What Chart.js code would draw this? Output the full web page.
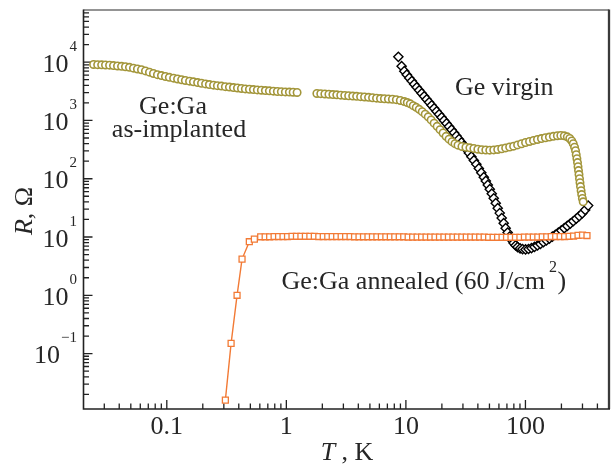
<!DOCTYPE html>
<html>
<head>
<meta charset="utf-8">
<title>R(T) Ge:Ga</title>
<script src="https://cdn.jsdelivr.net/npm/chart.js@4.4.1/dist/chart.umd.min.js"></script>
<style>
  html, body { margin: 0; padding: 0; background: #fff; }
  #wrap { width: 615px; height: 466px; }
</style>
</head>
<body>
<div id="wrap"><canvas id="chart1" width="615" height="466"></canvas></div>
<script>
// Ge:Ga as-implanted (T in K, R in Ohm)
const tImplanted = [
  0.0244, 0.0264, 0.0285, 0.0307, 0.0332, 0.0358, 0.0387, 0.0418, 0.0451, 0.0487,
  0.0526, 0.0568, 0.0614, 0.0663, 0.0716, 0.0773, 0.0835, 0.0902, 0.0974, 0.105,
  0.114, 0.123, 0.133, 0.143, 0.155, 0.167, 0.181, 0.195, 0.211, 0.227,
  0.246, 0.265, 0.286, 0.309, 0.334, 0.361, 0.390, 0.421, 0.454, 0.491,
  0.530, 0.572, 0.618, 0.668, 0.721, 0.779, 0.841, 0.908, 0.981, 1.06, 1.14, 1.23,
  1.80, 1.94, 2.10, 2.27, 2.45, 2.64, 2.85, 3.08, 3.32, 3.59, 3.87, 4.18, 4.51, 4.87, 5.26, 5.68,
  6.13, 6.61, 7.14, 7.71, 8.32, 8.98, 9.70, 10.27, 10.88, 11.52,
  12.20, 12.92, 13.69, 14.50, 15.36, 16.26, 17.22, 18.24, 19.32, 20.46,
  21.67, 22.95, 24.30, 25.74, 27.27, 29.43, 31.78, 34.30, 37.03, 39.98,
  43.17, 46.60, 50.30, 54.30, 58.62, 63.30, 68.32, 73.77, 79.62, 85.97,
  92.81, 100.2, 108.2, 116.8, 126.1, 136.1, 146.9, 158.6, 171.2, 184.9,
  197.7, 211.3, 223.9, 234.8, 244.0, 251.1, 257.5, 262.4, 266.0, 269.5,
  272.6, 275.3, 277.9, 280.6, 283.3, 286.0, 288.8, 292.1, 295.4, 299.5, 304.1
];
const rImplanted = [
  9130, 9060, 8990, 8950, 8880, 8740, 8610, 8470, 8340, 8140,
  7890, 7640, 7410, 7070, 6740, 6400, 6100, 5890, 5680, 5490,
  5320, 5150, 4990, 4850, 4720, 4590, 4470, 4350, 4230, 4130,
  4030, 3950, 3880, 3800, 3730, 3670, 3610, 3540, 3480, 3430,
  3380, 3340, 3300, 3260, 3220, 3180, 3140, 3120, 3090, 3070, 3050, 3020,
  2905, 2882, 2848, 2814, 2782, 2749, 2716, 2684, 2653, 2621, 2590, 2560, 2530, 2490, 2451, 2413,
  2375, 2357, 2338, 2310, 2274, 2203, 2109, 2028, 1926, 1795,
  1678, 1550, 1415, 1283, 1153, 1020, 899, 792, 695, 610,
  534, 478, 433, 400, 377, 358, 347, 339, 330, 321,
  314, 311, 309, 312, 318, 327, 338, 350, 362, 380,
  398, 418, 436, 454, 472, 489, 505, 519, 534, 547,
  553, 544, 523, 491, 445, 400, 348, 303, 259, 221,
  189, 161, 138, 118, 100.4, 85.7, 73.2, 62.5, 53.4, 45.9, 40.2
];

// Ge virgin
const tVirgin = [
  8.65, 9.21, 9.70, 10.17, 10.67, 11.20, 11.74, 12.32, 12.92, 13.56,
  14.22, 14.92, 15.65, 16.42, 17.22, 18.07, 18.95, 19.89, 20.86, 21.88,
  22.95, 24.08, 25.26, 26.50, 27.80, 29.16, 30.59, 32.09, 33.65, 35.31,
  37.03, 38.85, 40.75, 42.74, 44.84, 46.60, 48.42, 50.30, 52.26, 54.30,
  56.43, 58.62, 60.91, 63.30, 65.77, 68.32, 71.00, 73.77, 76.65, 79.62,
  82.74, 85.97, 90.19, 94.60, 100.2, 106.1, 112.4, 119.0, 126.1, 133.5,
  141.4, 149.8, 158.6, 168.0, 177.9, 188.5, 199.6, 211.3, 223.9, 237.1,
  251.1, 266.0, 281.7, 298.3, 316.0, 334.6
];
const rVirgin = [
  12330, 8540, 7010, 6100, 5360, 4740, 4195, 3710, 3283, 2916,
  2590, 2301, 2044, 1816, 1613, 1432, 1272, 1130, 1000, 888,
  786, 695, 615, 542, 478, 419, 367, 319, 277, 239,
  206, 177, 150, 127, 106.5, 91.7, 78.3, 66.3, 55.5, 46.1,
  38.1, 31.3, 25.7, 21.1, 17.3, 14.2, 11.9, 10.16, 8.85, 7.86,
  7.18, 6.71, 6.37, 6.20, 6.13, 6.23, 6.45, 6.76, 7.15, 7.61,
  8.14, 8.74, 9.39, 10.12, 10.95, 11.90, 12.97, 14.16, 15.50, 16.98,
  18.66, 20.60, 22.83, 25.40, 29.16, 34.56
];

// Ge:Ga annealed (60 J/cm2)
const tAnnealed = [
  0.309, 0.345, 0.387, 0.426, 0.49, 0.54, 0.61,
  0.665, 0.725, 0.790, 0.861, 0.938, 1.023, 1.115, 1.215, 1.324, 1.443,
  1.573, 1.714, 1.868, 2.036, 2.220, 2.419, 2.637, 2.874, 3.132, 3.413,
  3.720, 4.055, 4.419, 4.817, 5.250, 5.722, 6.236, 6.797, 7.408, 8.074,
  8.800, 9.591, 10.45, 11.39, 12.42, 13.53, 14.75, 16.08, 17.52, 19.10,
  20.81, 22.69, 24.73, 26.95, 29.37, 32.01, 34.89, 38.03, 41.44, 45.17,
  49.23, 53.66, 58.48, 63.74, 69.47, 75.72, 82.52, 89.94, 98.03, 106.8,
  116.4, 126.9, 138.3, 150.8, 164.3, 179.1, 195.2, 212.7, 231.9, 252.7, 275.4, 300.2, 327.2
];
const rAnnealed = [
  0.0159, 0.150, 1.00, 4.18, 8.3, 9.2, 10.1,
  10.1, 10.1, 10.2, 10.2, 10.2, 10.2, 10.3, 10.3, 10.3, 10.3,
  10.3, 10.3, 10.2, 10.2, 10.2, 10.2, 10.2, 10.2, 10.2, 10.2,
  10.1, 10.1, 10.1, 10.1, 10.1, 10.1, 10.1, 10.1, 10.1, 10.1,
  10.1, 10.1, 10.0, 10.0, 10.0, 10.0, 10.0, 10.0, 10.0, 10.0,
  10.0, 10.0, 10.0, 10.0, 10.0, 10.0, 10.0, 10.0, 10.0, 10.0,
  9.9, 9.9, 9.9, 9.9, 9.9, 9.9, 9.9, 9.9, 10.0, 10.0,
  10.0, 10.0, 10.1, 10.1, 10.2, 10.2, 10.2, 10.2, 10.3, 10.4, 10.7, 10.8, 10.6
];

// etiquetas de los ejes
const xTickValues = [0.1, 1, 10, 100];
const xTickLabels = ['0.1', '1', '10', '100'];
const yTickValues = [0.1, 1, 10, 100, 1000, 10000];
const yTickExps = ['\u22121', '0', '1', '2', '3', '4'];

const serif = '"Liberation Serif", "Times New Roman", serif';
const ink = '#262626';
const olive = '#a3963a';
const orange = '#f27a35';

function pairs(xs, ys) {
  return xs.map((x, i) => ({ x: x, y: ys[i] }));
}

// ticks hacia adentro + marco
const axisPlugin = {
  id: 'axisPlugin',
  beforeDatasetsDraw(chart) {
    const ctx = chart.ctx;
    const a = chart.chartArea;
    const sx = chart.scales.x;
    const sy = chart.scales.y;
    ctx.save();
    ctx.strokeStyle = '#222';
    ctx.lineWidth = 1.3;
    ctx.beginPath();
    for (let e = -2; e <= 2; e++) {
      for (let m = 1; m <= 9; m++) {
        const v = m * Math.pow(10, e);
        if (v <= sx.min * 1.02 || v >= sx.max) continue;
        const px = sx.getPixelForValue(v);
        const len = m === 1 ? 9 : 5.5;
        ctx.moveTo(px, a.bottom);
        ctx.lineTo(px, a.bottom - len);
      }
    }
    for (let e = -2; e <= 4; e++) {
      for (let m = 1; m <= 9; m++) {
        const v = m * Math.pow(10, e);
        if (v <= sy.min || v >= sy.max) continue;
        const py = sy.getPixelForValue(v);
        const len = m === 1 ? 9 : 5.5;
        ctx.moveTo(a.left, py);
        ctx.lineTo(a.left + len, py);
      }
    }
    ctx.stroke();

    // marco
    ctx.lineWidth = 1.3;
    ctx.strokeStyle = '#707070';
    ctx.beginPath();
    ctx.moveTo(a.left, a.top);
    ctx.lineTo(a.right, a.top);
    ctx.stroke();
    ctx.lineWidth = 2.3;
    ctx.strokeStyle = '#3a3a3a';
    ctx.beginPath();
    ctx.moveTo(a.right, a.top - 0.6);
    ctx.lineTo(a.right, a.bottom);
    ctx.stroke();
    ctx.lineWidth = 1.6;
    ctx.strokeStyle = '#222';
    ctx.beginPath();
    ctx.moveTo(a.left, a.top - 0.6);
    ctx.lineTo(a.left, a.bottom);
    ctx.lineTo(a.right + 1, a.bottom);
    ctx.stroke();
    ctx.restore();
  },
  afterDraw(chart) {
    const ctx = chart.ctx;
    const sx = chart.scales.x;
    const sy = chart.scales.y;
    ctx.save();
    ctx.fillStyle = ink;
    ctx.textBaseline = 'alphabetic';

    // eje x
    ctx.font = '26px ' + serif;
    ctx.textAlign = 'center';
    xTickValues.forEach((v, i) => {
      ctx.fillText(xTickLabels[i], sx.getPixelForValue(v), 434);
    });

    // eje y: 10 con exponente
    yTickValues.forEach((v, i) => {
      const py = sy.getPixelForValue(v);
      ctx.font = '15px ' + serif;
      const ew = ctx.measureText(yTickExps[i]).width;
      ctx.textAlign = 'left';
      ctx.fillText(yTickExps[i], 77 - ew, py - 11.5);
      ctx.font = '26px ' + serif;
      ctx.textAlign = 'right';
      ctx.fillText('10', 77 - ew - 1, py + 9.5);
    });

    // titulo x: "T , K"
    ctx.textAlign = 'left';
    ctx.font = 'italic 26px ' + serif;
    const tw = ctx.measureText('T').width;
    ctx.font = '26px ' + serif;
    const kw = ctx.measureText(' , K').width;
    let x0 = 347 - (tw + kw) / 2;
    ctx.font = 'italic 26px ' + serif;
    ctx.fillText('T', x0, 460);
    ctx.font = '26px ' + serif;
    ctx.fillText(' , K', x0 + tw, 460);

    // titulo y: "R, Ω"
    ctx.save();
    ctx.translate(32, 211);
    ctx.rotate(-Math.PI / 2);
    ctx.font = 'italic 26px ' + serif;
    const rw = ctx.measureText('R').width;
    ctx.font = '26px ' + serif;
    const ow = ctx.measureText(', \u03A9').width;
    x0 = -(rw + ow) / 2;
    ctx.font = 'italic 26px ' + serif;
    ctx.fillText('R', x0, 0);
    ctx.font = '26px ' + serif;
    ctx.fillText(', \u03A9', x0 + rw, 0);
    ctx.restore();

    // anotaciones
    ctx.font = '26px ' + serif;
    ctx.textAlign = 'center';
    ctx.fillText('Ge:Ga', 173, 114);
    ctx.fillText('as-implanted', 179, 137);
    ctx.textAlign = 'left';
    ctx.fillText('Ge virgin', 455, 95);
    const main = 'Ge:Ga annealed (60 J/cm';
    ctx.fillText(main, 281.5, 289);
    const mw = ctx.measureText(main).width;
    ctx.font = '16px ' + serif;
    ctx.fillText('2', 281.5 + mw + 4, 271.5);
    const sw = ctx.measureText('2').width;
    ctx.font = '26px ' + serif;
    ctx.fillText(')', 281.5 + mw + 4 + sw + 0.5, 289);
    ctx.restore();
  }
};

new Chart(document.getElementById('chart1'), {
  type: 'scatter',
  data: {
    datasets: [
      {
        label: 'Ge:Ga annealed',
        data: pairs(tAnnealed, rAnnealed),
        showLine: true,
        borderColor: orange,
        borderWidth: 1.4,
        pointStyle: 'rect',
        pointRadius: 4.2,
        pointBorderWidth: 1.3,
        pointBorderColor: orange,
        pointBackgroundColor: '#fff'
      },
      {
        label: 'Ge:Ga as-implanted',
        data: pairs(tImplanted, rImplanted),
        showLine: false,
        pointStyle: 'circle',
        pointRadius: 3.7,
        pointBorderWidth: 1.6,
        pointBorderColor: olive,
        pointBackgroundColor: '#fff'
      },
      {
        label: 'Ge virgin',
        data: pairs(tVirgin, rVirgin),
        showLine: false,
        pointStyle: 'rectRot',
        pointRadius: 4.6,
        pointBorderWidth: 1.4,
        pointBorderColor: '#000',
        pointBackgroundColor: '#fff'
      }
    ]
  },
  options: {
    responsive: false,
    animation: false,
    events: [],
    layout: { padding: { top: 10, right: 2.5, left: 0, bottom: 0 } },
    plugins: {
      legend: { display: false },
      tooltip: { enabled: false }
    },
    scales: {
      x: {
        type: 'logarithmic',
        min: 0.0201,
        max: 500,
        grid: { display: false },
        border: { display: false },
        ticks: { display: false },
        afterFit(scale) { scale.height = 57; }
      },
      y: {
        type: 'logarithmic',
        min: 0.0112,
        max: 78500,
        grid: { display: false },
        border: { display: false },
        ticks: { display: false },
        afterFit(scale) { scale.width = 83.5; }
      }
    }
  },
  plugins: [axisPlugin]
});
</script>
</body>
</html>
